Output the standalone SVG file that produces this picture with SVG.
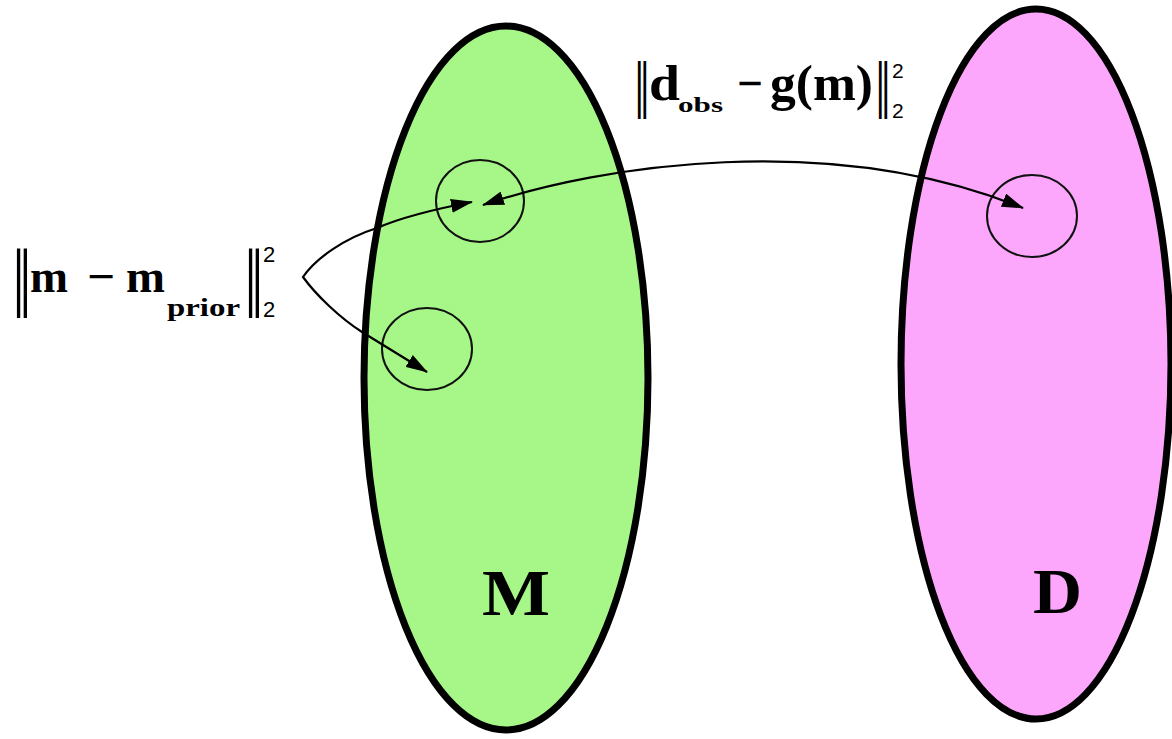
<svg xmlns="http://www.w3.org/2000/svg" width="1172" height="739" viewBox="0 0 1172 739">
<style>
.set{stroke:#000;stroke-width:7}
.ring{fill:none;stroke:#111;stroke-width:2}
.con{fill:none;stroke:#000;stroke-width:2.2}
.b{font-family:"Liberation Serif","Times New Roman",serif;font-weight:bold;fill:#000}
.n{font-family:"Liberation Sans",Arial,sans-serif;fill:#000}
.bar{font-family:"DejaVu Serif",serif;fill:#000}
</style>
<defs>
<marker id="ah" viewBox="0 0 22 14" refX="21" refY="7" markerWidth="22" markerHeight="14" markerUnits="userSpaceOnUse" orient="auto-start-reverse">
<path d="M0,0 L22,7 L0,14 z" fill="#000"/>
</marker>
</defs>
<rect width="1172" height="739" fill="#fff"/>
<g id="setM">
<ellipse class="set" cx="506" cy="378" rx="142" ry="352" fill="#a6f787"/>
<text class="b" x="482" y="615" font-size="66" textLength="68" lengthAdjust="spacingAndGlyphs">M</text>
</g>
<g id="setD">
<ellipse class="set" cx="1036" cy="364" rx="135" ry="355" fill="#fda7fc"/>
<text class="b" x="1033" y="613" font-size="64" textLength="49" lengthAdjust="spacingAndGlyphs">D</text>
</g>
<g id="m1">
<ellipse class="ring" cx="480" cy="201" rx="44" ry="41"/>
</g>
<g id="m2">
<ellipse class="ring" cx="427" cy="349" rx="45" ry="41"/>
</g>
<g id="d1">
<ellipse class="ring" cx="1032" cy="216" rx="45" ry="41"/>
</g>
<g id="connectors">
<path class="con" d="M 483 205 C 600 165, 830 130, 1023 208" marker-start="url(#ah)" marker-end="url(#ah)"/>
<path class="con" d="M 472 202 C 430 210, 400 218, 377 228 C 345 238, 316 258, 303 277 C 316 295, 340 318, 362 332 L 427 372" marker-start="url(#ah)" marker-end="url(#ah)"/>
</g>
<g id="label-prior">
<text class="bar" x="0" y="0" font-size="70" transform="translate(11.5,302) scale(0.6,1)">‖</text>
<text class="b" x="30" y="292" font-size="46" textLength="38" lengthAdjust="spacingAndGlyphs">m</text>
<text class="b" x="87" y="292" font-size="46" textLength="28" lengthAdjust="spacingAndGlyphs">−</text>
<text class="b" x="126" y="292" font-size="46" textLength="39" lengthAdjust="spacingAndGlyphs">m</text>
<text class="b" x="167" y="316" font-size="26" textLength="73" lengthAdjust="spacingAndGlyphs">prior</text>
<text class="bar" x="0" y="0" font-size="70" transform="translate(243.4,302) scale(0.6,1)">‖</text>
<text class="n" x="263" y="262" font-size="22">2</text>
<text class="n" x="263" y="317" font-size="22">2</text>
</g>
<g id="label-misfit">
<text class="bar" x="0" y="0" font-size="57" transform="translate(633.5,104.6) scale(0.6,1)">‖</text>
<text class="b" x="649" y="100" font-size="50" textLength="31" lengthAdjust="spacingAndGlyphs">d</text>
<text class="b" x="678" y="112" font-size="22" textLength="45" lengthAdjust="spacingAndGlyphs">obs</text>
<text class="b" x="737" y="100" font-size="50" textLength="26" lengthAdjust="spacingAndGlyphs">−</text>
<text class="b" x="770" y="100" font-size="50" textLength="103" lengthAdjust="spacingAndGlyphs">g(m)</text>
<text class="bar" x="0" y="0" font-size="57" transform="translate(874.4,104.6) scale(0.6,1)">‖</text>
<text class="n" x="892" y="78" font-size="21">2</text>
<text class="n" x="892" y="118" font-size="21">2</text>
</g>
</svg>
